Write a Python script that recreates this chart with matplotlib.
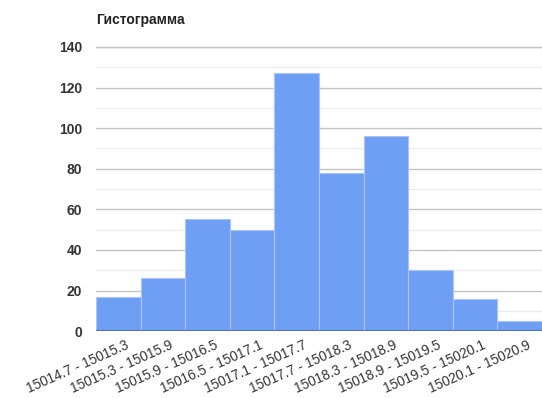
import numpy as np
import matplotlib
matplotlib.use('Agg')
import matplotlib.pyplot as plt
import matplotlib.transforms as mtrans
from matplotlib.ticker import MultipleLocator

# data
bins = ['15014.7 - 15015.3', '15015.3 - 15015.9', '15015.9 - 15016.5', '15016.5 - 15017.1',
        '15017.1 - 15017.7', '15017.7 - 15018.3', '15018.3 - 15018.9', '15018.9 - 15019.5',
        '15019.5 - 15020.1', '15020.1 - 15020.9']
counts = [17, 26, 55, 50, 127, 78, 96, 30, 16, 5]
yticks = [0, 20, 40, 60, 80, 100, 120, 140]
title = 'Гистограмма'

plt.rcParams['font.family'] = ['Liberation Sans', 'DejaVu Sans']

fig = plt.figure(figsize=(5.42, 3.98), dpi=100)
ax = fig.add_axes([0.177, 0.168, 0.823, 0.714])

x = np.arange(len(counts))
ax.bar(x, counts, width=1.0, color='#6f9ef5', edgecolor='#a9c4f7', linewidth=0.8, zorder=3)

ax.set_xlim(-0.5, len(counts) - 0.5)
ax.set_ylim(0, 140)
ax.set_yticks(yticks)
ax.yaxis.set_minor_locator(MultipleLocator(10))
ax.grid(axis='y', which='major', color='#c4c4c4', linewidth=1.0, zorder=0)
ax.grid(axis='y', which='minor', color='#ececec', linewidth=1.0, zorder=0)
for sp in ax.spines.values():
    sp.set_visible(False)
ax.axhline(0, color='#4f75c2', linewidth=2.2, zorder=4)
ax.axhline(140, color='#c4c4c4', linewidth=1.0, zorder=0, clip_on=False)

ax.tick_params(axis='both', which='both', length=0, colors='#333333')
ax.tick_params(axis='y', pad=10, labelsize=10)
ax.set_xticks(x)
ax.set_xticklabels(bins, rotation=24, ha='right', rotation_mode='anchor', fontsize=9.8)
ax.tick_params(axis='x', pad=5)
shift = mtrans.ScaledTranslation(7 / 100, 0, fig.dpi_scale_trans)
for lbl in ax.get_xticklabels():
    lbl.set_transform(lbl.get_transform() + shift)
for lbl in ax.get_yticklabels():
    lbl.set_fontweight('bold')

fig.text(96 / 542, 1 - 20 / 398, title, fontsize=10, fontweight='bold', color='#222222',
         ha='left', va='center')

fig.savefig('out.png', dpi=100)
